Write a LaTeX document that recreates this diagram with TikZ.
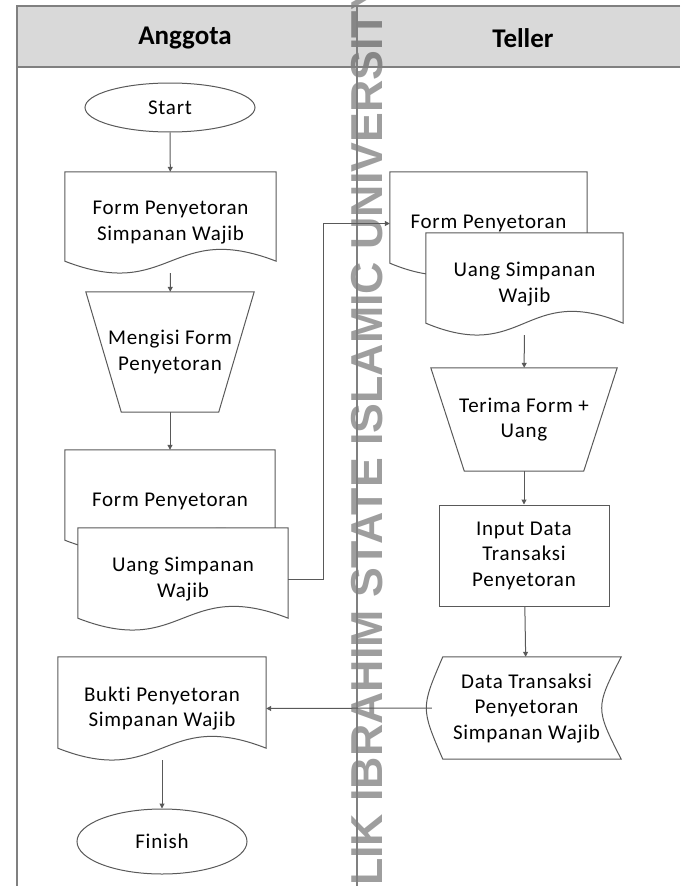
\documentclass[tikz,border=0pt]{standalone}
\usepackage{fontspec}
\setmainfont{Carlito}
\newfontfamily\boxfont{Carlito}[LetterSpace=3.5, Ligatures=NoCommon]
\newfontfamily\markfont{Liberation Sans}
\usetikzlibrary{shapes.geometric,arrows.meta}

\definecolor{linegray}{HTML}{595959}
\definecolor{lanegray}{HTML}{808080}
\definecolor{headfill}{HTML}{D9D9D9}

\tikzset{
	shapeline/.style={draw=linegray, line width=1pt},
	lane/.style={draw=lanegray, line width=1.4pt},
	flow/.style={draw=linegray, line width=1pt, -{Triangle[length=5pt,width=5pt]}},
	boxtext/.style={inner sep=0pt, align=center, font=\boxfont\fontsize{21pt}{25.5pt}\selectfont},
	terminal/.style={boxtext, shapeline, ellipse, fill=white, minimum width=170pt},
	docbox/.style={boxtext, rectangle, fill=white},
	manbox/.style={boxtext, rectangle},
	procbox/.style={boxtext, shapeline, rectangle, fill=white},
	storebox/.style={boxtext, rectangle},
	head/.style={font=\bfseries\fontsize{27pt}{32pt}\selectfont},
}

\newcommand{\docline}[1]{\draw[shapeline] (#1.north west) -- (#1.north east) -- ([yshift=12pt]#1.south east) .. controls ([yshift=53pt]#1.south) and ([yshift=-29pt]#1.south) .. ([yshift=12pt]#1.south west) -- cycle;}
\newcommand{\manline}[2]{\draw[shapeline] (#1.north west) -- (#1.north east) -- ([xshift=-#2]#1.south east) -- ([xshift=#2]#1.south west) -- cycle;}
\newcommand{\storeline}[1]{\draw[shapeline] ([xshift=11pt]#1.north west) -- (#1.north east) .. controls ([xshift=-26pt]#1.east) .. (#1.south east) -- ([xshift=11pt]#1.south west) .. controls ([xshift=-11pt]#1.west) .. ([xshift=11pt]#1.north west) -- cycle;}

\begin{document}
\begin{tikzpicture}[x=1pt, y=-1pt]
	\useasboundingbox (0,0) rectangle (680,886);

	\fill[headfill] (17,6) rectangle (680,67);

	\begin{scope}
		\clip (0,0) rectangle (680,886);
		\node[rotate=90, anchor=base west, inner sep=0pt, text=black, text opacity=0.38, font=\markfont\bfseries\fontsize{44.7pt}{50pt}\selectfont] (mark) at (382, 955.6) {MALIK IBRAHIM STATE ISLAMIC UNIVERSITY};
	\end{scope}

	\draw[lane] (680,6) -- (17,6) -- (17,886);
	\draw[lane] (17,67) -- (680,67);
	\draw[lane] (357,6) -- (357,886);

	\node[head] (H-00) at (185, 38) {Anggota};
	\node[head] (H-01) at (523, 38) {Teller};

	\node[terminal, minimum height=49pt] (A-00) at (170, 107.5) {Start};

	\node[docbox, minimum width=211pt, minimum height=101pt] (A-01) at (170.5, 222.5) {Form Penyetoran\\Simpanan Wajib};
	\docline{A-01}

	\node[manbox, minimum width=168pt, minimum height=120pt] (A-02) at (170, 352) {Mengisi Form\\Penyetoran};
	\manline{A-02}{35.5pt}

	\node[docbox, minimum width=210pt, minimum height=102pt] (A-03) at (170, 501) {Form Penyetoran};
	\docline{A-03}
	\node[docbox, minimum width=210pt, minimum height=102pt] (A-04) at (183, 579) {Uang Simpanan\\Wajib};
	\docline{A-04}

	\node[docbox, minimum width=208pt, minimum height=103pt] (A-05) at (162, 708.5) {Bukti Penyetoran\\Simpanan Wajib};
	\docline{A-05}

	\node[terminal, minimum height=65pt] (A-06) at (162, 841.5) {Finish};

	\node[docbox, minimum width=197pt, minimum height=103pt] (T-00) at (488.5, 223.5) {Form Penyetoran};
	\docline{T-00}
	\node[docbox, minimum width=197pt, minimum height=102pt] (T-01) at (524.5, 284) {Uang Simpanan\\Wajib};
	\docline{T-01}

	\node[manbox, minimum width=186pt, minimum height=103pt] (T-02) at (524, 419.5) {Terima Form +\\Uang};
	\manline{T-02}{33.5pt}

	\node[procbox, minimum width=170pt, minimum height=101pt] (T-03) at (524, 555.5) {Input Data\\Transaksi\\Penyetoran};

	\node[storebox, minimum width=189pt, minimum height=102pt] (T-04) at (526.5, 708) {Data Transaksi\\Penyetoran\\Simpanan Wajib};
	\storeline{T-04}

	\draw[flow] (A-00) to (A-01);
	\draw[flow] (A-01) to (A-02);
	\draw[flow] (A-02) to (A-03);
	\draw[flow] (A-04.east) -- ++(35,0) |- (T-00.west);

	\draw[flow] (T-01) to (T-02);
	\draw[flow] (T-02) to (T-03);
	\draw[flow] (T-03) to (T-04);
	\draw[flow] (T-04.west) to (A-05.east);
	\draw[flow] (A-05) to (A-06);

\end{tikzpicture}
\end{document}
